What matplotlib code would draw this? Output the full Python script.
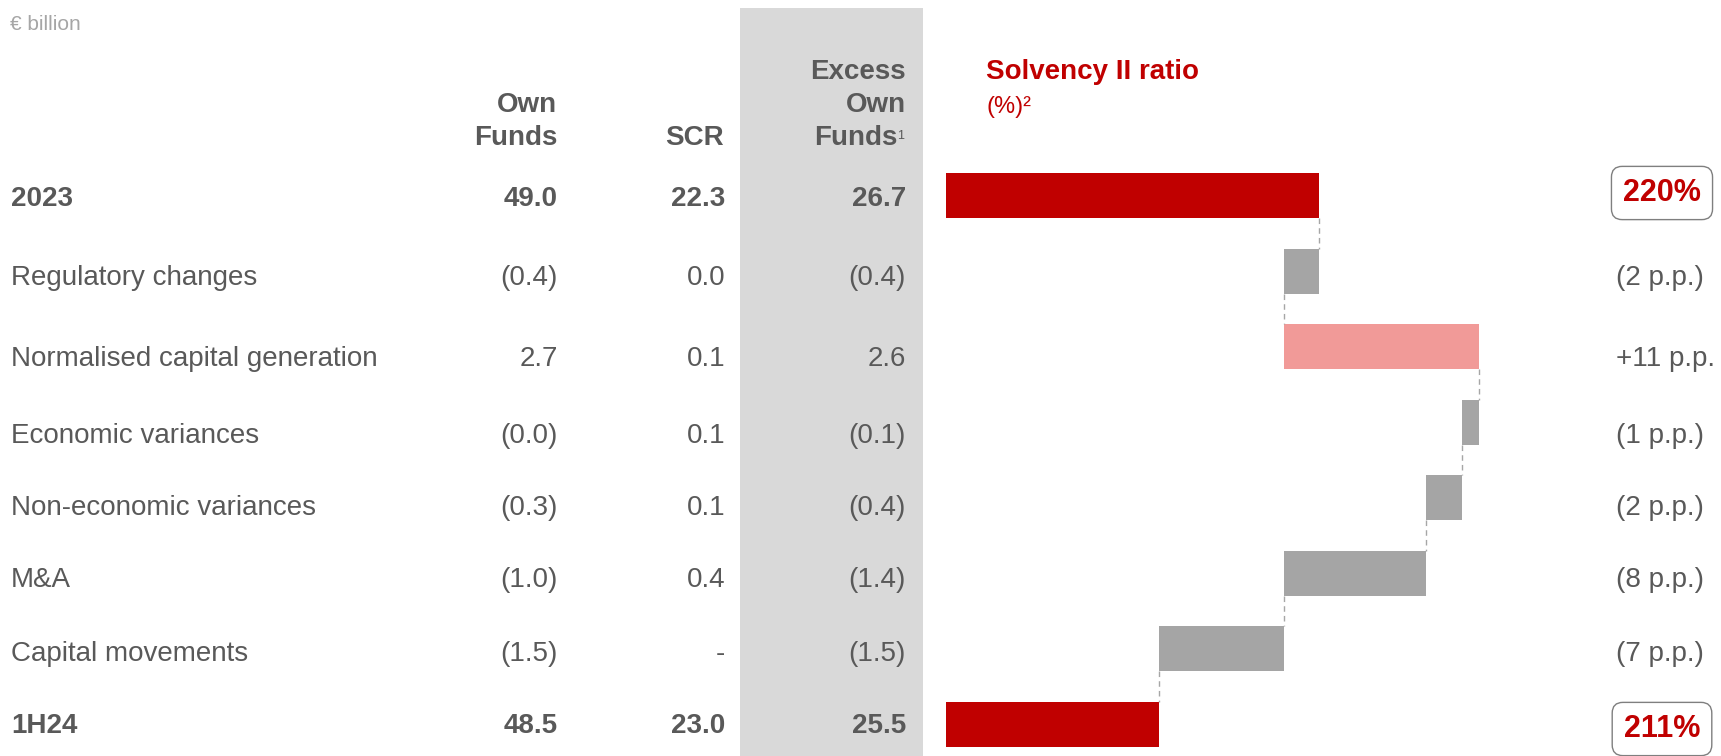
import matplotlib
matplotlib.use("Agg")
import matplotlib.pyplot as plt
from matplotlib.patches import Rectangle

plt.rcParams['font.family'] = ['Liberation Sans', 'DejaVu Sans']

# Data
labels = ["2023", "Regulatory changes", "Normalised capital generation", "Economic variances",
          "Non-economic variances", "M&A", "Capital movements", "1H24"]
own_funds = ["49.0", "(0.4)", "2.7", "(0.0)", "(0.3)", "(1.0)", "(1.5)", "48.5"]
scr = ["22.3", "0.0", "0.1", "0.1", "0.1", "0.4", "-", "23.0"]
excess = ["26.7", "(0.4)", "2.6", "(0.1)", "(0.4)", "(1.4)", "(1.5)", "25.5"]
ratio_start = 220
ratio_end = 211
deltas = [-2, 11, -1, -2, -8, -7]

W, H = 1721, 756
TXT = "#595959"
RED = "#C00000"
PINK = "#F19A98"
GREY = "#A5A5A5"

fig = plt.figure(figsize=(W / 100, H / 100), dpi=100)


def fx(px):
    return px / W


def fy(py):
    return 1 - py / H


# layout (pixels from top)
text_base = [206, 285, 366, 443, 515, 587, 661, 733]   # table baselines
row0, step = 195.5, 75.57                                # bar rows

# grey band behind the Excess Own Funds column
fig.patches.append(Rectangle((fx(740), 0), fx(923) - fx(740), fy(8), transform=fig.transFigure,
                             facecolor="#D9D9D9", edgecolor="none", zorder=0))

fs = 20
fig.text(fx(10), fy(30), "€ billion", fontsize=15, color="#A6A6A6", va="baseline")

# column headers
hdr = dict(fontsize=fs, weight="bold", color=TXT, ha="right", va="baseline")
fig.text(fx(557), fy(112), "Own", **hdr)
fig.text(fx(557), fy(145), "Funds", **hdr)
fig.text(fx(724), fy(145), "SCR", **hdr)
fig.text(fx(906), fy(79), "Excess", **hdr)
fig.text(fx(906), fy(112), "Own", **hdr)
fig.text(fx(897), fy(145), "Funds", **hdr)
fig.text(fx(897), fy(139), "1", fontsize=9, color=TXT, ha="left", va="baseline")
fig.text(fx(986), fy(79), "Solvency II ratio", fontsize=fs, weight="bold", color=RED, va="baseline")
fig.text(fx(986), fy(113), "(%)²", fontsize=17, color=RED, va="baseline")

# table rows
for i, lab in enumerate(labels):
    bold = i in (0, len(labels) - 1)
    w = "bold" if bold else "normal"
    y = fy(text_base[i])
    fig.text(fx(11), y, lab, fontsize=fs, weight=w, color=TXT, va="baseline")
    fig.text(fx(558), y, own_funds[i], fontsize=fs, weight=w, color=TXT, ha="right", va="baseline")
    fig.text(fx(725), y, scr[i], fontsize=fs, weight=w, color=TXT, ha="right", va="baseline")
    fig.text(fx(906), y, excess[i], fontsize=fs, weight=w, color=TXT, ha="right", va="baseline")

# waterfall
base = 199
px_per_pp = 160 / 9
ax = fig.add_axes([fx(946), 0, fx(1600) - fx(946), 1])
ax.set_xlim(base, base + (1600 - 946) / px_per_pp)
ax.set_ylim((H - row0) / step, -row0 / step)
ax.axis("off")

bh = 45 / step
ax.barh(0, ratio_start - base, left=base, height=bh, color=RED)
level = ratio_start
levels = [level]
for i, d in enumerate(deltas):
    color = PINK if d > 0 else GREY
    ax.barh(i + 1, abs(d), left=min(level, level + d), height=bh, color=color)
    level += d
    levels.append(level)
ax.barh(len(labels) - 1, ratio_end - base, left=base, height=bh, color=RED)

for i, lv in enumerate(levels):
    ax.plot([lv, lv], [i + bh / 2, i + 1 - bh / 2], color="#A6A6A6", lw=1, ls=(0, (4, 3)))

# right hand labels
box = dict(boxstyle="round,pad=0.38,rounding_size=0.35", facecolor="white", edgecolor="#7F7F7F", lw=1)
fig.text(fx(1662), fy(193), f"{ratio_start}%", fontsize=22, weight="bold", color=RED,
         ha="center", va="center", bbox=box)
fig.text(fx(1662), fy(729), f"{ratio_end}%", fontsize=22, weight="bold", color=RED,
         ha="center", va="center", bbox=box)
for i, d in enumerate(deltas):
    s = f"+{d} p.p." if d > 0 else f"({-d} p.p.)"
    fig.text(fx(1616), fy(text_base[i + 1]), s, fontsize=fs, color=TXT, va="baseline")

fig.savefig("out.png", dpi=100)
